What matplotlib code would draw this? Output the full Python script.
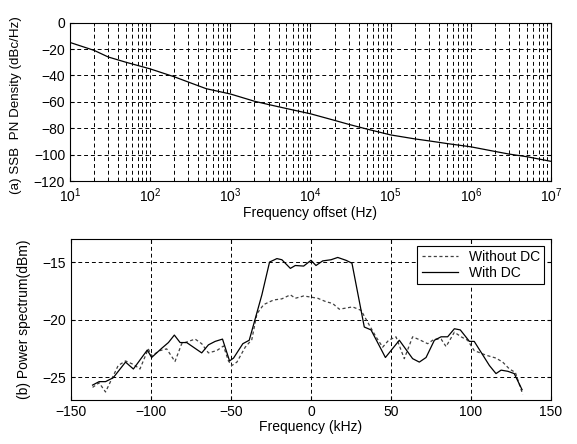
import matplotlib
matplotlib.use("Agg")
import matplotlib.pyplot as plt
from matplotlib.ticker import LogLocator, NullFormatter

plt.rcParams['font.family'] = ['Liberation Sans', 'DejaVu Sans']
plt.rcParams['mathtext.fontset'] = 'custom'
plt.rcParams['mathtext.rm'] = 'Liberation Sans'
plt.rcParams['mathtext.it'] = 'Liberation Sans:italic'
plt.rcParams['mathtext.default'] = 'regular'
plt.rcParams['font.size'] = 10

# (a) phase noise density
pn_freq = [10, 20, 30, 50, 100, 200, 300, 500, 1e3, 2e3, 3e3, 5e3, 1e4, 2e4, 3e4, 5e4,
           1e5, 2e5, 3e5, 5e5, 1e6, 2e6, 3e6, 5e6, 1e7]
pn_dbc = [-15, -21, -26, -30, -35, -41, -45, -50, -54, -59.5, -62, -65, -69, -74, -77, -80.5,
          -85, -88, -89.5, -91.5, -94, -97.5, -99.5, -101.5, -105]

# (b) power spectrum, without DC
nodc_f = [-136.5, -132.4, -128.4, -123.6, -120.5, -115.9, -111, -106.9, -101.7, -99.6, -94.4,
          -90.2, -85, -80.8, -76.6, -72.4, -68.3, -64.1, -58.9, -54.7, -51.6, -49.5, -46.3,
          -41.1, -37, -33.8, -29.6, -23.4, -18.2, -12.9, -9.8, -4.6, 0, 4.2, 9.4, 13.5, 17.7,
          21.9, 26, 31.3, 36.5, 40.6, 44.8, 48.5, 53.1, 58.3, 63.5, 67.7, 72.9, 77.1, 81.3,
          84.4, 89.6, 93.8, 97.9, 102, 109.4, 115.6, 119.8, 124, 127.7, 132.3]
nodc_p = [-25.9, -25.5, -26.3, -24.9, -24.0, -23.6, -23.9, -24.3, -22.55, -23.15, -22.7,
          -22.55, -23.65, -22.1, -21.9, -21.7, -22.1, -22.9, -22.7, -22.3, -23.6, -24.0, -23.7,
          -22.4, -21.75, -19.5, -18.7, -18.3, -18.2, -17.85, -18.15, -17.95, -18.05, -18.15,
          -18.45, -18.6, -19.1, -19.0, -18.9, -19.2, -20.5, -21.5, -22.4, -21.8, -21.5, -23.4,
          -21.5, -21.75, -22.1, -21.7, -21.7, -22.35, -21.1, -21.5, -21.8, -22.7, -23.1, -23.35,
          -23.7, -24.3, -24.6, -26.5]

# (b) power spectrum, with DC
dc_f = [-136.5, -132.4, -128.4, -123.6, -115.9, -111, -102.3, -99.6, -93.3, -89.1, -85.4,
        -81.8, -77.7, -68.3, -64.1, -59.9, -55.3, -50.9, -48.4, -42.6, -38.6, -30.7, -25.9,
        -21.3, -18.2, -12.9, -9.8, -4.6, 0, 3.1, 7.3, 12.5, 16.7, 21.9, 25.6, 33.3, 37.5,
        46.5, 55.2, 63.5, 67.7, 71.9, 77.1, 81.3, 85.4, 89.6, 93.3, 99, 102, 111.5, 115.6,
        118.8, 123, 127, 131.9]
dc_p = [-25.7, -25.4, -25.4, -25.06, -23.7, -24.3, -22.65, -23.3, -22.5, -22.0, -21.35,
        -22.0, -22.0, -22.9, -22.2, -21.9, -21.7, -23.6, -23.35, -22.1, -21.8, -17.85, -15.0,
        -14.7, -14.8, -15.55, -15.3, -15.35, -14.85, -15.3, -14.9, -14.8, -14.6, -14.85, -15.1,
        -20.65, -20.9, -23.3, -21.8, -23.4, -23.7, -23.3, -21.8, -21.5, -21.5, -20.8, -20.9,
        -21.9, -21.9, -24.0, -24.7, -24.4, -24.5, -24.7, -26.1]

fig = plt.figure(figsize=(5.77, 4.44), dpi=100)
grid_kw = dict(color='black', linestyle=(0, (4, 3)), linewidth=0.7)

ax1 = fig.add_axes([0.1213, 0.592, 0.8336, 0.357])
ax1.semilogx(pn_freq, pn_dbc, color='black', linewidth=0.9)
ax1.set_xlim(10, 1e7)
ax1.set_ylim(-120, 0)
ax1.set_yticks(range(-120, 1, 20))
ax1.xaxis.set_major_locator(LogLocator(base=10, numticks=20))
ax1.xaxis.set_minor_locator(LogLocator(base=10, subs=range(2, 10), numticks=100))
ax1.xaxis.set_minor_formatter(NullFormatter())
ax1.grid(True, which='both', axis='x', **grid_kw)
ax1.grid(True, which='major', axis='y', **grid_kw)
ax1.set_xlabel('Frequency offset (Hz)', labelpad=1)
ax1.set_ylabel('(a) SSB  PN Density (dBc/Hz)', fontsize=9.6)
ax1.yaxis.set_label_coords(-0.1, 0.48)

ax2 = fig.add_axes([0.123, 0.099, 0.832, 0.3626])
ax2.plot(nodc_f, nodc_p, color='0.25', linewidth=0.9, linestyle=(0, (2.5, 2)), label='Without DC')
ax2.plot(dc_f, dc_p, color='black', linewidth=0.9, label='With DC')
ax2.set_xlim(-150, 150)
ax2.set_ylim(-27, -13)
ax2.set_xticks(range(-150, 151, 50))
ax2.set_yticks([-25, -20, -15])
ax2.grid(True, **grid_kw)
ax2.set_xlabel('Frequency (kHz)', labelpad=1)
ax2.set_ylabel('(b) Power spectrum(dBm)', labelpad=8)
leg = ax2.legend(loc='upper right', fancybox=False, edgecolor='black', framealpha=1,
                 borderaxespad=0.5, handlelength=2.6, labelspacing=0.1, borderpad=0.3)
leg.get_frame().set_linewidth(0.8)

for ax in (ax1, ax2):
    ax.tick_params(which='both', direction='in', top=True, right=True, length=3)
    ax.tick_params(which='minor', length=2)
    for s in ax.spines.values():
        s.set_linewidth(0.8)

fig.savefig('out.png', dpi=100)
